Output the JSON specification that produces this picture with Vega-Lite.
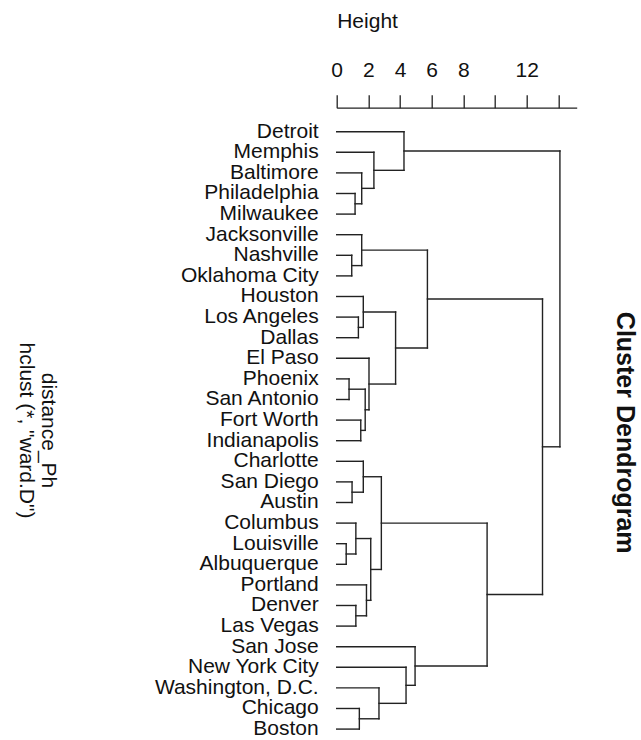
{
  "$schema": "https://vega.github.io/schema/vega-lite/v6.json",
  "width": 240,
  "height": 630,
  "autosize": {"type": "none"},
  "padding": {"left": 336.7, "top": 107.7, "right": 64.3, "bottom": 2.3},
  "background": "white",
  "config": {
    "view": {"stroke": null},
    "font": "Liberation Sans",
    "text": {"font": "Liberation Sans"},
    "axisX": {
      "orient": "top",
      "values": [0, 2, 4, 6, 8, 10, 12, 14],
      "labelExpr": "datum.value == 10 || datum.value == 14 ? '' : datum.label",
      "grid": false,
      "domainColor": "#222222",
      "domainWidth": 1.3,
      "tickColor": "#222222",
      "tickWidth": 1.3,
      "tickSize": 13,
      "labelFont": "Liberation Sans",
      "labelFontSize": 21,
      "labelColor": "#111111",
      "labelPadding": 14,
      "labelFlush": false,
      "labelOverlap": false,
      "titleFont": "Liberation Sans",
      "titleFontSize": 21,
      "titleFontWeight": "normal",
      "titleColor": "#111111",
      "titleX": 0,
      "titleY": -80,
      "titleAlign": "left",
      "titleBaseline": "alphabetic"
    }
  },
  "title": {
    "text": "Cluster Dendrogram",
    "orient": "right",
    "anchor": "middle",
    "frame": "group",
    "font": "Liberation Sans",
    "fontSize": 25,
    "fontWeight": "bold",
    "color": "#111111",
    "offset": 35,
    "dx": 10
  },
  "datasets": {
    "merges": [
      {"node": "A", "h": 1.16, "p1": 3, "h1": 0, "p2": 4, "h2": 0},
      {"node": "B", "h": 1.58, "p1": 2, "h1": 0, "p2": 3.5, "h2": 1.16},
      {"node": "C", "h": 2.35, "p1": 1, "h1": 0, "p2": 2.75, "h2": 1.58},
      {"node": "D", "h": 4.25, "p1": 0, "h1": 0, "p2": 1.875, "h2": 2.35},
      {"node": "E", "h": 0.95, "p1": 6, "h1": 0, "p2": 7, "h2": 0},
      {"node": "F", "h": 1.58, "p1": 5, "h1": 0, "p2": 6.5, "h2": 0.95},
      {"node": "G", "h": 1.37, "p1": 9, "h1": 0, "p2": 10, "h2": 0},
      {"node": "H", "h": 1.68, "p1": 8, "h1": 0, "p2": 9.5, "h2": 1.37},
      {"node": "I", "h": 0.78, "p1": 12, "h1": 0, "p2": 13, "h2": 0},
      {"node": "J", "h": 1.52, "p1": 14, "h1": 0, "p2": 15, "h2": 0},
      {"node": "K", "h": 1.80, "p1": 12.5, "h1": 0.78, "p2": 14.5, "h2": 1.52},
      {"node": "L", "h": 2.04, "p1": 11, "h1": 0, "p2": 13.5, "h2": 1.80},
      {"node": "M", "h": 3.72, "p1": 8.75, "h1": 1.68, "p2": 12.25, "h2": 2.04},
      {"node": "N", "h": 5.73, "p1": 5.75, "h1": 1.58, "p2": 10.5, "h2": 3.72},
      {"node": "O", "h": 0.97, "p1": 17, "h1": 0, "p2": 18, "h2": 0},
      {"node": "P", "h": 1.68, "p1": 16, "h1": 0, "p2": 17.5, "h2": 0.97},
      {"node": "Q", "h": 0.60, "p1": 20, "h1": 0, "p2": 21, "h2": 0},
      {"node": "R", "h": 1.21, "p1": 19, "h1": 0, "p2": 20.5, "h2": 0.60},
      {"node": "S", "h": 1.21, "p1": 23, "h1": 0, "p2": 24, "h2": 0},
      {"node": "T", "h": 1.88, "p1": 22, "h1": 0, "p2": 23.5, "h2": 1.21},
      {"node": "U", "h": 2.15, "p1": 19.75, "h1": 1.21, "p2": 22.75, "h2": 1.88},
      {"node": "V", "h": 2.82, "p1": 16.75, "h1": 1.68, "p2": 21.25, "h2": 2.15},
      {"node": "W", "h": 1.43, "p1": 28, "h1": 0, "p2": 29, "h2": 0},
      {"node": "X", "h": 2.67, "p1": 27, "h1": 0, "p2": 28.5, "h2": 1.43},
      {"node": "Y", "h": 4.38, "p1": 26, "h1": 0, "p2": 27.75, "h2": 2.67},
      {"node": "Z", "h": 4.95, "p1": 25, "h1": 0, "p2": 26.875, "h2": 4.38},
      {"node": "AA", "h": 9.5, "p1": 19, "h1": 2.82, "p2": 25.9375, "h2": 4.95},
      {"node": "BB", "h": 13.0, "p1": 8.125, "h1": 5.73, "p2": 22.46875, "h2": 9.5},
      {"node": "Root", "h": 14.1, "p1": 0.9375, "h1": 4.25, "p2": 15.296875, "h2": 13.0}
    ],
    "leaves": [
      {"city": "Detroit", "pos": 0},
      {"city": "Memphis", "pos": 1},
      {"city": "Baltimore", "pos": 2},
      {"city": "Philadelphia", "pos": 3},
      {"city": "Milwaukee", "pos": 4},
      {"city": "Jacksonville", "pos": 5},
      {"city": "Nashville", "pos": 6},
      {"city": "Oklahoma City", "pos": 7},
      {"city": "Houston", "pos": 8},
      {"city": "Los Angeles", "pos": 9},
      {"city": "Dallas", "pos": 10},
      {"city": "El Paso", "pos": 11},
      {"city": "Phoenix", "pos": 12},
      {"city": "San Antonio", "pos": 13},
      {"city": "Fort Worth", "pos": 14},
      {"city": "Indianapolis", "pos": 15},
      {"city": "Charlotte", "pos": 16},
      {"city": "San Diego\u00a0", "pos": 17},
      {"city": "Austin", "pos": 18},
      {"city": "Columbus", "pos": 19},
      {"city": "Louisville", "pos": 20},
      {"city": "Albuquerque", "pos": 21},
      {"city": "Portland", "pos": 22},
      {"city": "Denver", "pos": 23},
      {"city": "Las Vegas", "pos": 24},
      {"city": "San Jose", "pos": 25},
      {"city": "New York City", "pos": 26},
      {"city": "Washington, D.C.\u00a0", "pos": 27},
      {"city": "Chicago", "pos": 28},
      {"city": "Boston", "pos": 29}
    ]
  },
  "layer": [
    {
      "data": {"name": "merges"},
      "mark": {"type": "rule", "color": "#222222", "strokeWidth": 1.4, "strokeCap": "square"},
      "encoding": {
        "x": {
          "field": "h",
          "type": "quantitative",
          "scale": {"domain": [0, 15.16], "nice": false, "zero": false},
          "axis": {"title": "Height", "values": [0, 2, 4, 6, 8, 10, 12, 14], "tickCount": 8}
        },
        "y": {
          "field": "p1",
          "type": "quantitative",
          "scale": {"domain": [-1.165, 29.418], "reverse": true, "nice": false, "zero": false},
          "axis": {
            "orient": "left",
            "title": ["distance_Ph", "hclust (*, \"ward.D\")"],
            "domain": false,
            "ticks": false,
            "labels": false,
            "grid": false,
            "titleAngle": 90,
            "titleX": -295.7,
            "titleY": 322.3,
            "titleAlign": "center",
            "titleBaseline": "alphabetic",
            "titleFont": "Liberation Sans",
            "titleFontSize": 21,
            "titleFontWeight": "normal",
            "titleLineHeight": 22,
            "titleColor": "#111111"
          }
        },
        "y2": {"field": "p2"}
      }
    },
    {
      "data": {"name": "merges"},
      "mark": {"type": "rule", "color": "#222222", "strokeWidth": 1.4, "strokeCap": "square"},
      "encoding": {
        "x": {"field": "h1", "type": "quantitative", "axis": {"title": "Height", "values": [0, 2, 4, 6, 8, 10, 12, 14], "tickCount": 8}},
        "x2": {"field": "h"},
        "y": {"field": "p1", "type": "quantitative"}
      }
    },
    {
      "data": {"name": "merges"},
      "mark": {"type": "rule", "color": "#222222", "strokeWidth": 1.4, "strokeCap": "square"},
      "encoding": {
        "x": {"field": "h2", "type": "quantitative", "axis": {"title": "Height", "values": [0, 2, 4, 6, 8, 10, 12, 14], "tickCount": 8}},
        "x2": {"field": "h"},
        "y": {"field": "p2", "type": "quantitative"}
      }
    },
    {
      "data": {"name": "leaves"},
      "mark": {
        "type": "text",
        "align": "right",
        "baseline": "middle",
        "dx": -18,
        "font": "Liberation Sans",
        "fontSize": 21,
        "color": "#111111"
      },
      "encoding": {
        "x": {"datum": 0, "type": "quantitative", "axis": {"title": "Height", "values": [0, 2, 4, 6, 8, 10, 12, 14], "tickCount": 8}},
        "y": {"field": "pos", "type": "quantitative"},
        "text": {"field": "city"}
      }
    }
  ]
}
